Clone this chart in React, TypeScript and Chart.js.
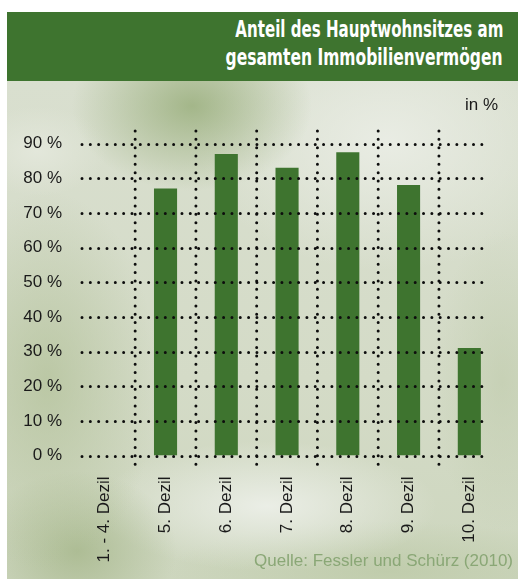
import React, { useEffect, useLayoutEffect, useRef } from "react";
import { Chart, registerables } from "chart.js";

Chart.register(...registerables);

const categories = [
  "1. - 4. Dezil",
  "5. Dezil",
  "6. Dezil",
  "7. Dezil",
  "8. Dezil",
  "9. Dezil",
  "10. Dezil",
];
const shares: (number | null)[] = [null, 77, 87, 83, 87.5, 78, 31];
const yMin = 0;
const yMax = 90;
const yStep = 10;
const titleLines = ["Anteil des Hauptwohnsitzes am", "gesamten Immobilienvermögen"];
const titleWidths = [268, 277];
const unitLabel = "in %";
const sourceLabel = "Quelle: Fessler und Schürz (2010)";

const GREEN = "#3e742f";
const FONT = "'Liberation Sans', Arial, sans-serif";

const dottedGrid = {
  id: "dottedGrid",
  afterDatasetsDraw(chart: any) {
    const { ctx, chartArea, scales } = chart;
    const x = scales.x;
    const y = scales.y;
    ctx.save();
    ctx.strokeStyle = "#0d0d0d";
    ctx.lineWidth = 3;
    ctx.lineCap = "round";
    ctx.setLineDash([0, 8.33]);
    const hStart = chartArea.left + 7.6;
    const hEnd = chartArea.right - 10.5;
    for (const t of y.ticks) {
      const py = Math.round(y.getPixelForValue(t.value)) + 0.5;
      ctx.beginPath();
      ctx.moveTo(hStart, py);
      ctx.lineTo(hEnd, py);
      ctx.stroke();
    }
    const vTop = y.getPixelForValue(yMax) - 12.5;
    const vBot = y.getPixelForValue(yMin) + 13.5;
    for (let i = 0; i < categories.length - 1; i++) {
      const px = (x.getPixelForValue(i) + x.getPixelForValue(i + 1)) / 2;
      ctx.beginPath();
      ctx.moveTo(px, vTop);
      ctx.lineTo(px, vBot);
      ctx.stroke();
    }
    ctx.restore();
  },
};

function TitleLine({ text, width, top }: { text: string; width: number; top: number }) {
  const ref = useRef<HTMLDivElement>(null);
  useLayoutEffect(() => {
    const el = ref.current;
    if (!el) return;
    el.style.transform = "none";
    const w = el.getBoundingClientRect().width;
    if (w > 0) el.style.transform = `scaleX(${width / w})`;
  }, [text, width]);
  return (
    <div
      ref={ref}
      style={{
        position: "absolute",
        right: 15,
        top,
        color: "#ffffff",
        fontFamily: "'DejaVu Sans Condensed', 'DejaVu Sans', sans-serif",
        fontWeight: 700,
        fontSize: 23,
        lineHeight: "27px",
        whiteSpace: "nowrap",
        transformOrigin: "right center",
      }}
    >
      {text}
    </div>
  );
}

export default function App() {
  const ref = useRef<HTMLCanvasElement>(null);

  useEffect(() => {
    if (!ref.current) return;
    const chart = new Chart(ref.current, {
      type: "bar",
      data: {
        labels: categories,
        datasets: [
          {
            data: shares as any,
            backgroundColor: GREEN,
            borderWidth: 0,
            barPercentage: 0.38,
            categoryPercentage: 1,
          },
        ],
      },
      options: {
        responsive: false,
        animation: false,
        layout: { padding: { top: 62.5, right: 18.3, left: 0, bottom: 0 } },
        plugins: {
          legend: { display: false },
          tooltip: { enabled: false },
        },
        scales: {
          x: {
            grid: { display: false, drawTicks: false },
            border: { display: false },
            afterFit: (s: any) => {
              s.height = 123.5;
            },
            ticks: {
              autoSkip: false,
              minRotation: 90,
              maxRotation: 90,
              padding: 21,
              color: "#1a1a1a",
              font: { family: FONT, size: 17 },
            },
          },
          y: {
            min: yMin,
            max: yMax,
            grid: { display: false, drawTicks: false },
            border: { display: false },
            afterFit: (s: any) => {
              s.width = 67.4;
            },
            ticks: {
              stepSize: yStep,
              padding: 12.4,
              color: "#1a1a1a",
              font: { family: FONT, size: 17 },
              callback: (v: any) => `${v} %`,
            },
          },
        },
      },
      plugins: [dottedGrid],
    });
    return () => chart.destroy();
  }, []);

  const bg = [
    "radial-gradient(ellipse 120px 85px at 185px 25px, rgba(150,172,120,0.8), rgba(150,172,120,0) 100%)",
    "radial-gradient(ellipse 70px 45px at 30px 70px, rgba(228,232,220,0.9), rgba(228,232,220,0) 100%)",
    "radial-gradient(ellipse 110px 190px at 40px 300px, rgba(176,191,150,0.7), rgba(176,191,150,0) 100%)",
    "radial-gradient(ellipse 100px 80px at 70px 470px, rgba(165,182,138,0.8), rgba(165,182,138,0) 100%)",
    "radial-gradient(ellipse 170px 65px at 260px 425px, rgba(236,239,232,0.95), rgba(236,239,232,0) 100%)",
    "radial-gradient(ellipse 190px 130px at 380px 60px, rgba(234,237,229,0.95), rgba(234,237,229,0) 100%)",
    "radial-gradient(ellipse 70px 150px at 495px 300px, rgba(190,202,170,0.6), rgba(190,202,170,0) 100%)",
    "radial-gradient(ellipse 220px 50px at 380px 490px, rgba(185,199,162,0.65), rgba(185,199,162,0) 100%)",
    "linear-gradient(180deg, #d9dfcf 0%, #d4dbc7 60%, #cdd6be 100%)",
  ].join(", ");

  return (
    <div
      style={{
        position: "fixed",
        left: 0,
        top: 0,
        width: 518,
        height: 579,
        background: "#ffffff",
        overflow: "hidden",
        fontFamily: FONT,
      }}
    >
      <div
        style={{
          position: "absolute",
          left: 7,
          top: 12,
          width: 511,
          height: 69,
          background: GREEN,
        }}
      >
        {titleLines.map((line, i) => (
          <TitleLine key={i} text={line} width={titleWidths[i]} top={4 + i * 27.5} />
        ))}
      </div>
      <div
        style={{
          position: "absolute",
          left: 7,
          top: 81,
          width: 511,
          height: 498,
          background: bg,
        }}
      />
      <canvas
        ref={ref}
        width={511}
        height={498}
        style={{ position: "absolute", left: 7, top: 81, width: 511, height: 498 }}
      />
      <div
        style={{
          position: "absolute",
          right: 20,
          top: 95,
          fontSize: 17,
          lineHeight: "20px",
          color: "#1a1a1a",
          whiteSpace: "nowrap",
        }}
      >
        {unitLabel}
      </div>
      <div
        style={{
          position: "absolute",
          right: 5,
          top: 551,
          fontSize: 17,
          lineHeight: "20px",
          color: "#8aa776",
          whiteSpace: "nowrap",
        }}
      >
        {sourceLabel}
      </div>
    </div>
  );
}
